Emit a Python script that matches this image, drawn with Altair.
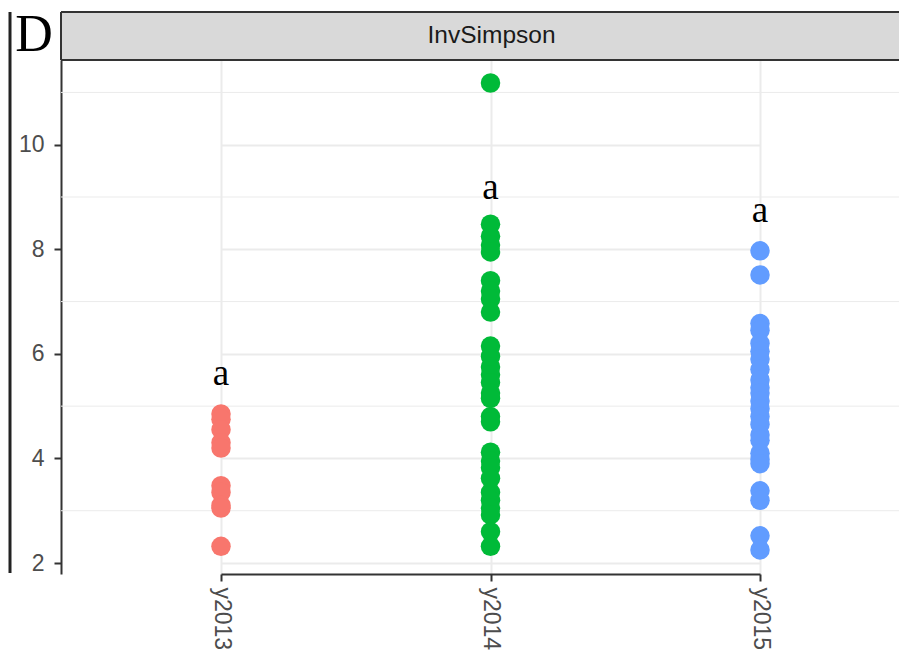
import altair as alt
import pandas as pd

# ---- data ----
years = ["y2013", "y2014", "y2015"]
colors = ["#F8766D", "#00BA38", "#619CFF"]

inv_2013 = [4.85, 4.75, 4.55, 4.3, 4.2, 3.48, 3.35, 3.1, 3.05, 2.32]
inv_2014 = [11.18, 8.48, 8.25, 8.08, 7.95, 7.4, 7.2, 7.05, 6.8,
            6.15, 5.95, 5.75, 5.6, 5.45, 5.25, 5.15, 4.8, 4.7,
            4.12, 3.95, 3.82, 3.62, 3.35, 3.2, 3.05, 2.92, 2.6, 2.32]
inv_2015 = [7.97, 7.51, 6.58, 6.45, 6.2, 6.05, 5.9, 5.7, 5.5, 5.35, 5.25,
            5.1, 4.95, 4.8, 4.65, 4.45, 4.35, 4.1, 3.98, 3.9,
            3.38, 3.2, 2.52, 2.25]

letters = ["a", "a", "a"]
letter_y = [5.40, 8.96, 8.53]

major_ticks = [2, 4, 6, 8, 10]
minor_ticks = [3, 5, 7, 9, 11]
y_domain = [1.79, 11.62]
strip_label = "InvSimpson"
panel_tag = "D"

# ---- layout ----
W = 838          # page body is 891 px wide; 53 px go to the left margin area
H = 514
STRIP = 48
DARK = "#333333"
GRID = "#EBEBEB"

pts = pd.DataFrame(
    {"year": ["y2013"] * len(inv_2013) + ["y2014"] * len(inv_2014) + ["y2015"] * len(inv_2015),
     "value": inv_2013 + inv_2014 + inv_2015}
)
lab = pd.DataFrame({"year": years, "ly": letter_y, "letter": letters})
minor = pd.DataFrame({"v": minor_ticks})
one = pd.DataFrame({"s": [strip_label], "t": [panel_tag]})

xscale = alt.Scale(type="point", domain=years, range=[160, 699], padding=0)
yscale = alt.Scale(domain=y_domain, nice=False, zero=False)

xaxis = alt.Axis(title=None, labelAngle=90, labelAlign="left", labelBaseline="middle",
                 grid=True, gridColor=GRID, gridWidth=2,
                 domainColor=DARK, domainWidth=2, tickColor=DARK, tickWidth=2, tickSize=7,
                 labelFont="Liberation Sans", labelFontSize=23, labelColor="#4D4D4D",
                 labelPadding=6)
yaxis = alt.Axis(title=None, values=major_ticks, grid=True, gridColor=GRID, gridWidth=2,
                 domainColor=DARK, domainWidth=2, tickColor=DARK, tickWidth=2, tickSize=7,
                 labelFont="Liberation Sans", labelFontSize=23, labelColor="#4D4D4D",
                 labelPadding=10)

minor_grid = alt.Chart(minor).mark_rule(color=GRID, strokeWidth=1).encode(
    y=alt.Y("v:Q", scale=yscale, axis=yaxis)
)

points = alt.Chart(pts).mark_circle(size=380, opacity=1).encode(
    x=alt.X("year:N", scale=xscale, axis=xaxis),
    y=alt.Y("value:Q", scale=yscale, axis=yaxis),
    color=alt.Color("year:N", scale=alt.Scale(domain=years, range=colors), legend=None),
)

letters_layer = alt.Chart(lab).mark_text(
    font="Liberation Serif", fontSize=37, baseline="alphabetic", align="center", color="black"
).encode(
    x=alt.X("year:N", scale=xscale),
    y=alt.Y("ly:Q", scale=yscale),
    text="letter:N",
)

strip_rect = alt.Chart(one).mark_rect(fill="#D9D9D9").encode(
    x=alt.value(0), x2=alt.value(W + 20), y=alt.value(-STRIP), y2=alt.value(0)
)
strip_top = alt.Chart(one).mark_rule(color=DARK, strokeWidth=2).encode(
    x=alt.value(0), x2=alt.value(W + 20), y=alt.value(-STRIP)
)
strip_bottom = alt.Chart(one).mark_rule(color=DARK, strokeWidth=2).encode(
    x=alt.value(0), x2=alt.value(W + 20), y=alt.value(0)
)
strip_left = alt.Chart(one).mark_rule(color=DARK, strokeWidth=2).encode(
    x=alt.value(0), y=alt.value(-STRIP), y2=alt.value(0)
)
strip_text = alt.Chart(one).mark_text(
    font="Liberation Sans", fontSize=24.5, color="#1A1A1A", baseline="middle", align="center"
).encode(x=alt.value(430.5), y=alt.value(-STRIP / 2), text="s:N")

tag_text = alt.Chart(one).mark_text(
    font="Liberation Serif", fontSize=52, color="black", baseline="alphabetic", align="center"
).encode(x=alt.value(-27), y=alt.value(-9), text="t:N")

left_line = alt.Chart(one).mark_rule(color="#222222", strokeWidth=3).encode(
    x=alt.value(-51), y=alt.value(-STRIP), y2=alt.value(H - 1)
)

chart = alt.layer(
    minor_grid, points, letters_layer,
    strip_rect, strip_top, strip_bottom, strip_left, strip_text, tag_text, left_line,
).properties(
    width=W, height=H,
    autosize=alt.AutoSizeParams(type="none"),
    padding={"left": 53, "top": 52, "right": 0, "bottom": 76},
    background="white",
).configure_view(strokeWidth=0)

chart.save("out.html", embed_options={"renderer": "svg", "actions": False})
